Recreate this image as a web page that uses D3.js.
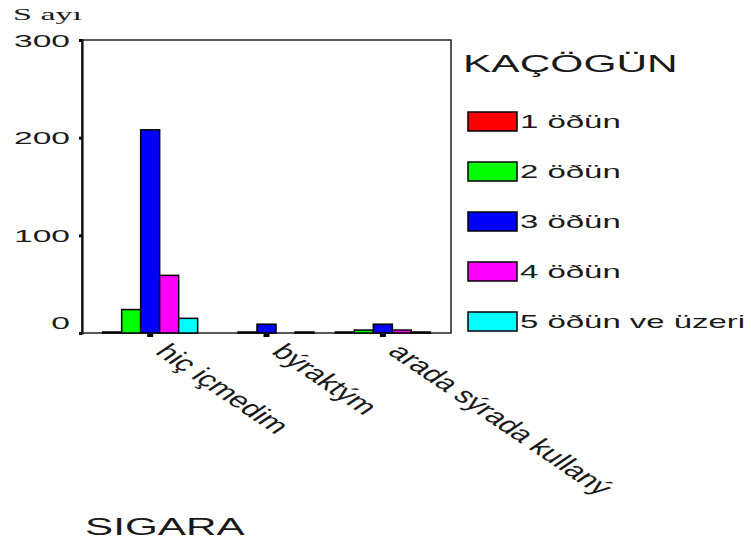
<!DOCTYPE html>
<html><head><meta charset="utf-8">
<script src="https://cdn.jsdelivr.net/npm/d3@7"></script>
<style>body{margin:0;background:#fff}svg{display:block}text{font-family:"Liberation Sans",Arial,sans-serif;fill:#1a1a1a}</style>
</head><body><svg id="c" width="751" height="547"></svg>
<script>
const categories = ["hiç içmedim", "býraktým", "arada sýrada kullaný"];
const series = ["1 öðün", "2 öðün", "3 öðün", "4 öðün", "5 öðün ve üzeri"];
const values1 = [1, 24, 208, 59, 15];   // hiç içmedim
const values2 = [0, 1, 9, 0, 1];        // býraktým
const values3 = [1, 3, 9, 3, 1];        // arada sýrada kullaný
const yTicks = [0, 100, 200, 300];
const colors = ["#ff0000", "#00ff00", "#0000ff", "#ff00ff", "#00ffff"];
const legendTitle = "KAÇÖGÜN";
const xTitle = "SIGARA";
const yTitle = "S ayı";

const table = [values1, values2, values3];
const svg = d3.select("#c");
const L = 82, R = 451, T = 40, B = 333;

const y = d3.scaleLinear().domain([0, 300]).range([B, T]);
const x0 = d3.scaleBand().domain(categories).range([92, 441]);
const x1 = d3.scaleBand().domain(series).range([0, 95]);
const color = d3.scaleOrdinal().domain(series).range(colors);

// frame
svg.append("rect").attr("x", L).attr("y", T).attr("width", R - L).attr("height", B - T)
  .attr("fill", "none").attr("stroke", "#222").attr("stroke-width", 1.5);

// bars
const groups = svg.selectAll("g.grp").data(categories).join("g")
  .attr("transform", c => `translate(${x0(c) + x0.bandwidth() / 2 - 47.5},0)`);
groups.selectAll("rect").data((c, i) => series.map((s, j) => ({ s, v: table[i][j] })).filter(d => d.v > 0))
  .join("rect")
  .attr("x", d => x1(d.s)).attr("width", x1.bandwidth())
  .attr("y", d => y(d.v)).attr("height", d => B - y(d.v))
  .attr("fill", d => color(d.s)).attr("stroke", "#000").attr("stroke-width", 1.5);

// y axis
const ya = svg.append("g").attr("transform", `translate(${L},0)`)
  .call(d3.axisLeft(y).tickValues(yTicks).tickSize(3).tickFormat(d3.format("d")));
ya.select(".domain").attr("stroke", "#111").attr("stroke-width", 2.2);
ya.selectAll(".tick line").attr("stroke", "#000").attr("stroke-width", 3);
ya.selectAll(".tick text").each(function (d) {
  const t = d3.select(this);
  const yy = d === 0 ? -11 : 0;
  t.attr("x", null).attr("dy", null).attr("text-anchor", "end")
   .attr("font-size", 16).attr("font-family", "Liberation Sans")
   .attr("transform", `translate(-12,${yy + 6}) scale(2.1,1)`).attr("fill", "#1a1a1a");
});

// x axis ticks
const xa = svg.append("g").attr("transform", `translate(0,${B})`)
  .call(d3.axisBottom(x0).tickSize(4).tickSizeOuter(0));
xa.select(".domain").remove();
xa.selectAll(".tick line").attr("stroke", "#000").attr("stroke-width", 6).attr("y1", 1);
xa.selectAll(".tick text").attr("y", null).attr("dy", null).attr("text-anchor", "start")
  .attr("font-size", 22).attr("font-family", "Liberation Sans").attr("fill", "#1a1a1a")
  .attr("transform", "translate(4,20) scale(1.48,1) rotate(45)");

// axis titles
svg.append("text").attr("transform", "translate(13,20) scale(2.0,1)")
  .attr("font-size", 17).style("font-family", "Liberation Serif")
  .text(yTitle);
svg.append("text").attr("transform", "translate(85,535) scale(1.76,1)")
  .attr("font-size", 24).text(xTitle);

// legend
const lg = svg.append("g");
lg.append("text").attr("transform", "translate(463,72) scale(1.77,1)").attr("font-size", 24).text(legendTitle);
const items = lg.selectAll("g.it").data(series).join("g")
  .attr("transform", (d, i) => `translate(468,${112 + i * 50})`);
items.append("rect").attr("width", 49).attr("height", 19)
  .attr("fill", d => color(d)).attr("stroke", "#000").attr("stroke-width", 1.5);
items.append("text").attr("transform", "translate(52,16) scale(1.83,1)").attr("font-size", 18).text(d => d);
</script></body></html>
